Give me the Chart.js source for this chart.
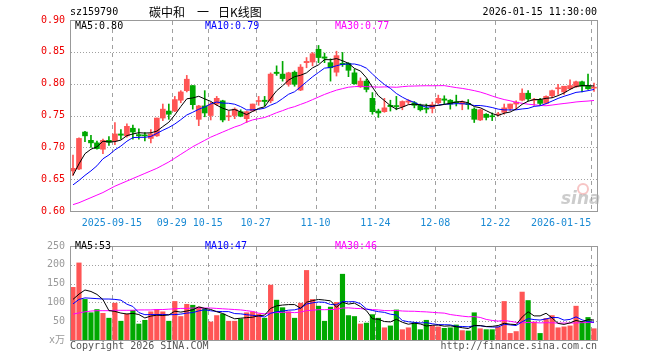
<!DOCTYPE html>
<html>
<head>
<meta charset="utf-8">
<script src="https://cdn.jsdelivr.net/npm/chart.js@4.4.1/dist/chart.umd.min.js"></script>
<style>
  html, body { margin: 0; padding: 0; background: #fff; }
  #wrap { position: relative; width: 660px; height: 360px; }
  canvas { position: absolute; left: 0; }
  #kline { top: 0; }
  #vol { top: 235px; }
</style>
</head>
<body>
<div id="wrap">
  <canvas id="kline" width="660" height="235"></canvas>
  <canvas id="vol" width="660" height="125"></canvas>
</div>
<script>
// Trading days shown on the chart
const dates = [
  '2025-09-04','2025-09-05','2025-09-08','2025-09-09','2025-09-10','2025-09-11','2025-09-12','2025-09-15','2025-09-16','2025-09-17',
  '2025-09-18','2025-09-19','2025-09-22','2025-09-23','2025-09-24','2025-09-25','2025-09-26','2025-09-29','2025-09-30','2025-10-09',
  '2025-10-10','2025-10-13','2025-10-14','2025-10-15','2025-10-16','2025-10-17','2025-10-20','2025-10-21','2025-10-22','2025-10-23',
  '2025-10-24','2025-10-27','2025-10-28','2025-10-29','2025-10-30','2025-10-31','2025-11-03','2025-11-04','2025-11-05','2025-11-06',
  '2025-11-07','2025-11-10','2025-11-11','2025-11-12','2025-11-13','2025-11-14','2025-11-17','2025-11-18','2025-11-19','2025-11-20',
  '2025-11-21','2025-11-24','2025-11-25','2025-11-26','2025-11-27','2025-11-28','2025-12-01','2025-12-02','2025-12-03','2025-12-04',
  '2025-12-05','2025-12-08','2025-12-09','2025-12-10','2025-12-11','2025-12-12','2025-12-15','2025-12-16','2025-12-17','2025-12-18',
  '2025-12-19','2025-12-22','2025-12-23','2025-12-24','2025-12-25','2025-12-26','2025-12-29','2025-12-30','2025-12-31','2026-01-05',
  '2026-01-06','2026-01-07','2026-01-08','2026-01-09','2026-01-12','2026-01-13','2026-01-14','2026-01-15'
];

const opens = [
  0.663,0.666,0.724,0.711,0.707,0.697,0.711,0.710,0.721,0.718,
  0.730,0.720,0.719,0.714,0.718,0.746,0.757,0.757,0.774,0.789,
  0.797,0.744,0.765,0.750,0.768,0.773,0.748,0.750,0.756,0.745,
  0.757,0.772,0.774,0.773,0.818,0.815,0.799,0.818,0.790,0.833,
  0.834,0.854,0.842,0.833,0.818,0.832,0.832,0.817,0.795,0.804,
  0.777,0.757,0.756,0.766,0.765,0.764,0.771,0.770,0.766,0.761,
  0.761,0.770,0.776,0.774,0.771,0.768,0.769,0.760,0.743,0.752,
  0.749,0.751,0.755,0.761,0.768,0.774,0.785,0.774,0.775,0.769,
  0.781,0.792,0.787,0.792,0.795,0.803,0.797,0.793
];
const highs = [
  0.688,0.715,0.725,0.719,0.710,0.713,0.717,0.739,0.728,0.737,
  0.735,0.729,0.723,0.728,0.746,0.768,0.768,0.780,0.789,0.813,
  0.797,0.766,0.789,0.771,0.780,0.774,0.757,0.762,0.759,0.757,
  0.768,0.780,0.780,0.817,0.828,0.835,0.818,0.820,0.830,0.841,
  0.849,0.860,0.848,0.839,0.851,0.849,0.833,0.823,0.809,0.807,
  0.786,0.760,0.777,0.774,0.780,0.773,0.775,0.772,0.768,0.768,
  0.771,0.782,0.781,0.775,0.782,0.773,0.775,0.762,0.760,0.753,
  0.754,0.755,0.768,0.768,0.773,0.792,0.789,0.777,0.777,0.781,
  0.790,0.799,0.796,0.806,0.804,0.804,0.815,0.801
];
const lows = [
  0.656,0.665,0.709,0.700,0.697,0.690,0.703,0.704,0.713,0.716,
  0.713,0.713,0.710,0.707,0.717,0.742,0.744,0.756,0.770,0.787,
  0.760,0.734,0.748,0.743,0.766,0.740,0.742,0.745,0.748,0.739,
  0.757,0.766,0.765,0.770,0.813,0.804,0.796,0.796,0.789,0.825,
  0.828,0.833,0.833,0.804,0.812,0.827,0.811,0.799,0.794,0.787,
  0.752,0.747,0.755,0.757,0.759,0.759,0.768,0.762,0.757,0.754,
  0.754,0.768,0.768,0.760,0.765,0.759,0.760,0.739,0.742,0.743,
  0.742,0.749,0.752,0.758,0.760,0.773,0.773,0.766,0.766,0.768,
  0.778,0.783,0.783,0.791,0.794,0.787,0.791,0.788
];
const closes = [
  0.667,0.714,0.718,0.707,0.698,0.711,0.708,0.721,0.719,0.733,
  0.724,0.718,0.718,0.721,0.746,0.760,0.752,0.775,0.787,0.807,
  0.767,0.765,0.754,0.768,0.777,0.743,0.749,0.760,0.749,0.756,
  0.768,0.773,0.772,0.815,0.816,0.808,0.817,0.799,0.826,0.835,
  0.847,0.841,0.840,0.825,0.844,0.830,0.821,0.800,0.804,0.791,
  0.756,0.754,0.762,0.764,0.764,0.772,0.773,0.766,0.759,0.760,
  0.767,0.777,0.774,0.768,0.770,0.771,0.767,0.744,0.759,0.747,
  0.748,0.752,0.762,0.768,0.771,0.785,0.776,0.775,0.769,0.780,
  0.789,0.793,0.796,0.797,0.803,0.796,0.792,0.794
];
// Volume, in units of 10,000
const volumes = [
  140,205,108,72.5,81,71,58,98,50,69,
  79,42.5,52.5,75,81,75,50,102.5,62.5,95,
  92.5,87.5,83,48,65,69,50,50,56,72.5,
  75,69,58,146,106,86,75,58,98,185,
  108,90,50,87.5,100,175,65,62.5,42.5,45,
  67.5,58,32.5,37.5,80,27.5,32.5,46,27.5,52.5,
  37.5,35,31,32.5,40,25,24,72.5,30,27.5,
  27.5,35,102.5,17.5,22.5,127.5,105,48,17.5,57.5,
  65,32.5,35,37.5,90,47.5,60,30
];

// Moving-average values before enough history is on screen
const ma5Head = [0.656,0.674,0.690,0.697];
const ma10Head = [0.641,0.648,0.656,0.663,0.671,0.682,0.688,0.696,0.702];
const ma30Head = [
  0.610,0.613,0.617,0.621,0.625,0.629,0.634,0.639,0.643,0.647,
  0.651,0.655,0.659,0.663,0.667,0.672,0.677,0.683,0.689,0.695,
  0.701,0.706,0.711,0.716,0.720,0.724,0.728,0.732,0.735
];
const volMa5Head = [108,122,133,129];
const volMa10Head = [96,108,112,111,110,109,109,108,106];
const volMa30Head = [
  69,72,75,77,78,78,78,79,79,79,
  79,80,80,80,81,81,82,83,84,84,
  85,85,85,85,84,83,82,81,80
];

// x-axis tick dates and the labels shown for them
const tickDates = ['2025-09-15','2025-09-29','2025-10-15','2025-10-27','2025-11-10','2025-11-24','2025-12-08','2025-12-22','2026-01-15'];
const tickLabels = ['2025-09-15','09-29','10-15','10-27','11-10','11-24','12-08','12-22','2026-01-15'];

const UP = '#ff5555';
const DOWN = '#00a800';
const MONO = '10px "DejaVu Sans Mono", monospace';

// Moving average, falling back to the read-off head values at the start
function movingAvg(values, n, head) {
  return values.map((v, i) => {
    if (i < head.length) return head[i];
    let sum = 0;
    for (let k = i - n + 1; k <= i; k++) sum += values[k];
    return sum / n;
  });
}

const candleColors = closes.map((c, i) => (c >= opens[i] ? UP : DOWN));

// grid lines sit on the tick dates; the last label is pulled inside the box
const gridIdx = tickDates.map(d => dates.indexOf(d));
const labelAt = {};
tickDates.forEach((d, k) => {
  const idx = Math.min(dates.indexOf(d), dates.length - 1 - 5);
  labelAt[idx] = tickLabels[k];
});

// Dashed date lines and dotted value lines, placed through the chart's scales
const gridPlugin = {
  id: 'sinaGrid',
  beforeDatasetsDraw(chart) {
    const { ctx, chartArea: a, scales } = chart;
    const x = scales.x, y = scales.y;
    ctx.save();
    ctx.fillStyle = '#a0a0a0';
    // vertical dashes at the left edge of each tick date's slot
    gridIdx.forEach(i => {
      const px = Math.round(x.getPixelForValue(i - 0.5));
      for (let yy = Math.round(a.top) + 1; yy < a.bottom; yy += 8) {
        ctx.fillRect(px, yy, 1, Math.min(4, a.bottom - yy));
      }
    });
    // dotted horizontal lines at the value ticks
    y.ticks.forEach(t => {
      const py = Math.round(y.getPixelForValue(t.value));
      if (py <= a.top + 1 || py >= a.bottom - 1) return;
      for (let xx = Math.round(a.left) + 1; xx < a.right; xx += 3) {
        ctx.fillRect(xx, py, 1, 1);
      }
    });
    ctx.restore();
  }
};

// Draws the plot frame and any free text for a chart
const decorPlugin = {
  id: 'decor',
  afterDraw(chart, args, opts) {
    const { ctx, chartArea: a } = chart;
    ctx.save();
    ctx.strokeStyle = '#999';
    ctx.lineWidth = 1;
    ctx.strokeRect(Math.round(a.left) + 0.5, Math.round(a.top) + 0.5,
                   Math.round(a.right - a.left), Math.round(a.bottom - a.top));
    (opts.texts || []).forEach(t => {
      ctx.font = t.font || MONO;
      ctx.fillStyle = t.color || '#000';
      ctx.textAlign = t.align || 'left';
      ctx.textBaseline = 'middle';
      ctx.fillText(t.text, t.x, t.y);
    });
    if (opts.logo) {
      ctx.strokeStyle = 'rgba(240,150,150,0.55)';
      ctx.lineWidth = 2;
      ctx.beginPath();
      ctx.arc(583, 189, 5, 0, Math.PI * 2);
      ctx.stroke();
      ctx.font = 'italic bold 17px "DejaVu Sans", sans-serif';
      ctx.fillStyle = 'rgba(170,170,170,0.6)';
      ctx.textAlign = 'left';
      ctx.textBaseline = 'middle';
      ctx.fillText('sina', 561, 200);
    }
    ctx.restore();
  }
};

function xScale(showLabels) {
  return {
    type: 'category',
    offset: true,
    grid: { display: false, drawTicks: false },
    border: { display: false },
    ticks: {
      display: showLabels,
      autoSkip: false,
      maxRotation: 0,
      padding: 6,
      labelOffset: -3,
      color: '#1a8ad4',
      font: { family: '"DejaVu Sans Mono", monospace', size: 10 },
      callback: (v, i) => labelAt[i] || ''
    },
    afterFit: s => { s.height = showLabels ? 24 : 0; }
  };
}

function lineSet(data, color) {
  return { type: 'line', data, borderColor: color, borderWidth: 1, pointRadius: 0, fill: false, tension: 0, order: 0 };
}

function renderKline() {
  const ma5 = movingAvg(closes, 5, ma5Head);
  const ma10 = movingAvg(closes, 10, ma10Head);
  const ma30 = movingAvg(closes, 30, ma30Head);
  const last = dates.length - 1;

  new Chart(document.getElementById('kline'), {
    type: 'bar',
    data: {
      labels: dates,
      datasets: [
        lineSet(ma5, '#000'),
        lineSet(ma10, '#0000ff'),
        lineSet(ma30, '#ff00ff'),
        {
          data: lows.map((l, i) => [l, highs[i]]),
          backgroundColor: candleColors, barThickness: 1, grouped: false, order: 2
        },
        {
          data: opens.map((o, i) => [o, closes[i]]),
          backgroundColor: candleColors, barThickness: 5, minBarLength: 1, grouped: false, order: 1
        }
      ]
    },
    options: {
      responsive: false,
      devicePixelRatio: 1,
      animation: false,
      layout: { padding: { left: 0, right: 63, top: 20, bottom: 0 } },
      scales: {
        x: xScale(true),
        y: {
          min: 0.6, max: 0.9,
          grid: { display: false, drawTicks: false },
          border: { display: false },
          ticks: {
            stepSize: 0.05, padding: 5, color: '#ee0000',
            font: { family: '"DejaVu Sans Mono", monospace', size: 10 },
            callback: v => Number(v).toFixed(2)
          },
          afterFit: s => { s.width = 70; }
        }
      },
      plugins: {
        legend: { display: false },
        tooltip: { enabled: false },
        decor: {
          logo: true,
          texts: [
            { text: 'sz159790', x: 70, y: 12.5 },
            { text: '碳中和', x: 149, y: 12, font: '12px "Noto Sans CJK SC", sans-serif' },
            { text: '一', x: 197, y: 12, font: '12px "Noto Sans CJK SC", sans-serif' },
            { text: '日K线图', x: 218, y: 12, font: '12px "Noto Sans CJK SC", sans-serif' },
            { text: '2026-01-15 11:30:00', x: 597, y: 12.5, align: 'right' },
            { text: 'MA5:' + ma5[last].toFixed(2), x: 75, y: 26 },
            { text: 'MA10:' + ma10[last].toFixed(2), x: 205, y: 26, color: '#0000ff' },
            { text: 'MA30:' + ma30[last].toFixed(2), x: 335, y: 26, color: '#ff00ff' }
          ]
        }
      }
    },
    plugins: [gridPlugin, decorPlugin]
  });
}

function renderVolume() {
  const v5 = movingAvg(volumes, 5, volMa5Head);
  const v10 = movingAvg(volumes, 10, volMa10Head);
  const v30 = movingAvg(volumes, 30, volMa30Head);
  const last = dates.length - 1;

  new Chart(document.getElementById('vol'), {
    type: 'bar',
    data: {
      labels: dates,
      datasets: [
        lineSet(v5, '#000'),
        lineSet(v10, '#0000ff'),
        lineSet(v30, '#ff00ff'),
        { data: volumes, backgroundColor: candleColors, barThickness: 4.5, grouped: false, order: 1 }
      ]
    },
    options: {
      responsive: false,
      devicePixelRatio: 1,
      animation: false,
      layout: { padding: { left: 0, right: 63, top: 5, bottom: 20 } },
      scales: {
        x: xScale(false),
        y: {
          min: 0, max: 250,
          grid: { display: false, drawTicks: false },
          border: { display: false },
          ticks: {
            stepSize: 50, padding: 5, color: '#999',
            font: { family: '"DejaVu Sans Mono", "Noto Sans CJK SC", monospace', size: 10 },
            callback: v => (v === 0 ? 'x万' : v)
          },
          afterFit: s => { s.width = 70; }
        }
      },
      plugins: {
        legend: { display: false },
        tooltip: { enabled: false },
        decor: {
          texts: [
            { text: 'MA5:' + Math.round(v5[last]), x: 75, y: 11 },
            { text: 'MA10:' + Math.round(v10[last]), x: 205, y: 11, color: '#0000ff' },
            { text: 'MA30:' + Math.round(v30[last]), x: 335, y: 11, color: '#ff00ff' },
            { text: 'Copyright 2026 SINA.COM', x: 70, y: 111, color: '#555' },
            { text: 'http://finance.sina.com.cn', x: 597, y: 111, color: '#555', align: 'right' }
          ]
        }
      }
    },
    plugins: [gridPlugin, decorPlugin]
  });
}

document.addEventListener('DOMContentLoaded', () => {
  renderKline();
  renderVolume();
});
</script>
</body>
</html>
